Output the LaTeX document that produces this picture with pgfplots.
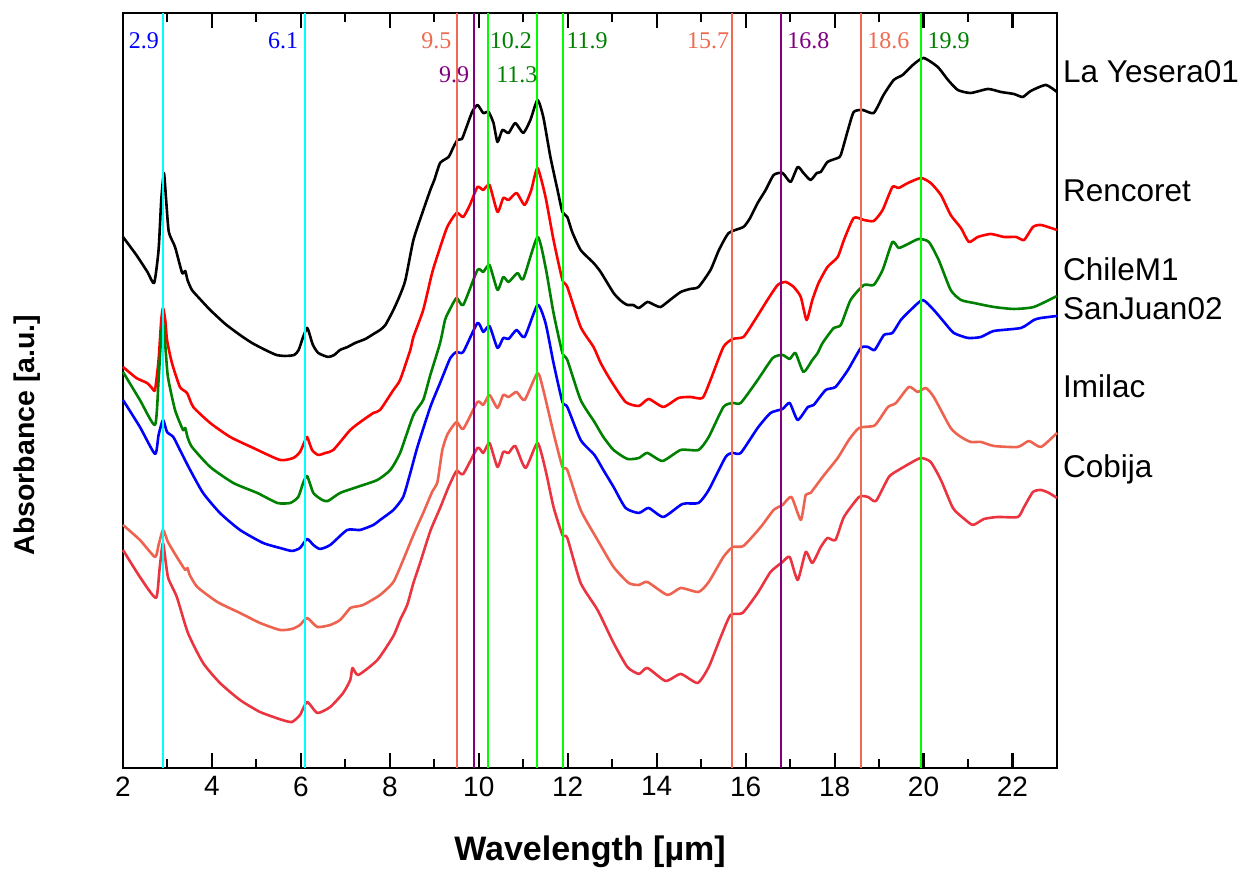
\documentclass[border=0pt]{standalone}
\usepackage{fontspec}
\setmainfont{Liberation Sans}
\newfontfamily\tnr{Liberation Serif}
\usepackage{pgfplots}
\pgfplotsset{compat=1.18}
\definecolor{cgreen}{HTML}{008000}
\definecolor{cimilac}{HTML}{EE6350}
\definecolor{ccobija}{HTML}{EA3440}
\definecolor{csalmon}{HTML}{EE6A50}
\definecolor{cpurple}{HTML}{800080}
\definecolor{clime}{HTML}{00FF00}
\definecolor{ccyan}{HTML}{00FFFF}
\begin{document}
\begin{tikzpicture}
\begin{axis}[
 scale only axis, width=934pt, height=755pt,
 xmin=2, xmax=23, ymin=13, ymax=768,
 y filter/.expression={781-y},
 axis line style={line width=2.5pt},
 xtick={2,4,...,22}, minor xtick={3,5,...,21}, ytick=\empty,
 xtick pos=both, xtick align=inside,
 major tick length=15pt, minor tick length=9pt,
 major tick style={line width=2.2pt, draw=black},
 minor tick style={line width=2pt, draw=black},
 /pgf/number format/assume math mode=true,
 xticklabel style={font=\fontsize{28}{28}\selectfont, yshift=-5pt},
 xlabel={Wavelength [µm]}, ylabel={Absorbance [a.u.]},
 xlabel style={font=\bfseries\fontsize{34}{34}\selectfont, at={(axis description cs:0.5,-0.1113)}, anchor=center},
 ylabel style={font=\bfseries\fontsize{28.5}{28.5}\selectfont, at={(axis description cs:-0.1028,0.441)}, anchor=center},
 clip=false,
 every axis plot/.append style={line width=2.6pt, line join=round, no markers},
]
% La Yesera01
\addplot[black, smooth, tension=0.35] coordinates {(2.00,237) (2.30,255) (2.55,272) (2.70,283) (2.80,250) (2.86,200) (2.92,173) (2.97,200) (3.03,232) (3.17,247) (3.33,273) (3.40,271) (3.45,280) (3.55,290) (3.75,300) (3.96,310) (4.30,324) (4.63,335) (4.90,343) (5.20,350) (5.45,355) (5.65,356) (5.85,355) (5.95,350) (6.05,337) (6.14,328) (6.20,335) (6.27,345) (6.39,353) (6.61,357) (6.75,355) (6.88,350) (7.05,347) (7.22,343) (7.45,339) (7.67,333) (7.78,330) (7.90,325) (8.08,310) (8.23,295) (8.35,280) (8.53,240) (8.73,213) (8.91,190) (9.00,180) (9.13,163) (9.32,157) (9.42,148) (9.52,140) (9.62,139) (9.70,130) (9.85,112) (9.97,105) (10.10,113) (10.22,112) (10.33,123) (10.42,142) (10.53,130) (10.67,133) (10.82,123) (11.00,133) (11.16,120) (11.32,100) (11.45,117) (11.61,157) (11.77,190) (11.88,212) (11.99,217) (12.10,232) (12.29,250) (12.58,263) (12.74,272) (13.03,293) (13.20,301) (13.34,305) (13.47,305) (13.60,308) (13.79,302) (13.95,305) (14.09,307) (14.30,300) (14.54,292) (14.75,289) (14.94,287) (15.21,270) (15.40,250) (15.62,233) (15.95,227) (16.10,218) (16.27,203) (16.45,190) (16.63,175) (16.83,173) (17.01,182) (17.17,167) (17.30,173) (17.46,180) (17.60,173) (17.69,172) (17.84,162) (18.07,158) (18.14,155) (18.30,130) (18.43,112) (18.63,110) (18.88,113) (19.10,95) (19.33,80) (19.53,75) (19.76,65) (20.00,58) (20.32,67) (20.55,80) (20.77,90) (21.06,93) (21.45,89) (21.74,92) (22.03,94) (22.23,97) (22.41,91) (22.75,85) (23.00,92)};
% Rencoret
\addplot[red, smooth, tension=0.35] coordinates {(2.00,367) (2.30,378) (2.54,383) (2.65,388) (2.72,390) (2.80,360) (2.86,320) (2.90,308) (2.95,320) (2.99,340) (3.10,363) (3.28,387) (3.44,393) (3.58,407) (3.96,423) (4.41,437) (4.93,448) (5.53,460) (5.83,458) (5.98,452) (6.07,443) (6.14,437) (6.25,450) (6.39,455) (6.55,453) (6.73,450) (7.11,430) (7.40,420) (7.63,413) (7.78,410) (8.08,390) (8.23,380) (8.46,350) (8.53,337) (8.75,310) (8.95,273) (9.09,253) (9.29,227) (9.50,213) (9.65,217) (9.80,205) (9.97,187) (10.10,190) (10.24,185) (10.42,212) (10.55,198) (10.67,200) (10.85,193) (11.03,205) (11.18,190) (11.32,168) (11.50,197) (11.68,240) (11.88,280) (11.99,287) (12.29,327) (12.58,347) (12.74,363) (12.96,380) (13.30,402) (13.60,406) (13.82,399) (14.15,407) (14.49,398) (14.76,397) (15.03,398) (15.21,380) (15.50,347) (15.71,339) (15.95,337) (16.18,322) (16.49,300) (16.72,285) (16.90,282) (17.08,287) (17.24,297) (17.37,320) (17.50,300) (17.64,283) (17.84,267) (18.07,257) (18.21,240) (18.43,218) (18.66,220) (18.88,221) (19.08,210) (19.30,187) (19.44,188) (19.65,183) (19.94,178) (20.16,183) (20.39,195) (20.61,215) (20.84,228) (21.02,242) (21.22,237) (21.51,234) (21.81,237) (22.08,237) (22.26,240) (22.46,227) (22.64,225) (23.00,230)};
% ChileM1
\addplot[cgreen, smooth, tension=0.35] coordinates {(2.00,372) (2.38,400) (2.72,425) (2.80,380) (2.86,335) (2.90,323) (2.95,345) (3.01,377) (3.17,410) (3.35,430) (3.40,428) (3.45,437) (3.55,447) (3.96,467) (4.48,483) (5.02,493) (5.47,503) (5.76,503) (5.94,497) (6.05,483) (6.14,476) (6.28,493) (6.48,500) (6.61,501) (6.88,493) (7.27,487) (7.72,480) (8.01,470) (8.23,453) (8.53,415) (8.75,400) (8.91,375) (9.13,343) (9.24,320) (9.32,312) (9.50,298) (9.65,305) (9.97,270) (10.10,272) (10.24,265) (10.42,290) (10.55,277) (10.67,282) (10.87,273) (11.00,279) (11.32,237) (11.50,267) (11.68,313) (11.88,353) (11.99,360) (12.29,400) (12.60,422) (12.80,437) (13.03,450) (13.34,459) (13.60,458) (13.79,453) (14.13,461) (14.54,450) (14.94,450) (15.17,437) (15.50,407) (15.71,403) (15.89,403) (16.27,380) (16.61,358) (16.83,355) (16.99,359) (17.12,353) (17.30,372) (17.50,360) (17.62,353) (17.73,343) (17.98,328) (18.14,325) (18.36,300) (18.66,285) (18.88,285) (19.08,270) (19.30,242) (19.44,248) (19.65,244) (19.89,239) (20.12,242) (20.34,260) (20.61,290) (20.84,300) (21.13,303) (21.58,307) (22.03,309) (22.48,307) (23.00,296)};
% SanJuan02
\addplot[blue, smooth, tension=0.35] coordinates {(2.00,400) (2.38,427) (2.72,454) (2.80,435) (2.90,420) (2.99,432) (3.13,437) (3.28,450) (3.51,470) (3.80,493) (4.18,513) (4.63,530) (5.15,543) (5.53,548) (5.80,551) (5.98,548) (6.14,539) (6.28,545) (6.43,549) (6.66,545) (7.04,530) (7.33,530) (7.63,525) (7.78,520) (8.08,510) (8.30,497) (8.46,473) (8.62,447) (8.91,407) (9.13,383) (9.36,358) (9.50,352) (9.65,352) (9.97,323) (10.10,332) (10.24,326) (10.42,348) (10.55,338) (10.67,339) (10.85,330) (11.03,337) (11.32,305) (11.50,323) (11.68,363) (11.88,402) (11.99,407) (12.29,440) (12.60,455) (12.80,470) (13.03,487) (13.30,508) (13.60,513) (13.82,508) (14.15,517) (14.58,504) (14.94,503) (15.17,490) (15.55,457) (15.71,453) (15.89,453) (16.27,428) (16.56,413) (16.83,409) (16.99,403) (17.17,420) (17.40,407) (17.53,405) (17.80,390) (18.02,387) (18.30,370) (18.59,348) (18.75,347) (18.90,350) (19.11,335) (19.30,333) (19.49,320) (19.71,310) (19.98,300) (20.23,310) (20.46,322) (20.68,333) (21.00,338) (21.29,337) (21.58,331) (22.19,328) (22.48,320) (22.64,318) (23.00,316)};
% Imilac
\addplot[cimilac, smooth, tension=0.35] coordinates {(2.00,525) (2.38,540) (2.72,557) (2.80,545) (2.90,530) (3.01,542) (3.21,557) (3.40,570) (3.45,568) (3.50,575) (3.67,587) (4.12,602) (4.63,613) (5.08,623) (5.53,630) (5.80,629) (5.98,625) (6.14,618) (6.37,627) (6.66,625) (6.88,620) (7.11,608) (7.18,607) (7.40,605) (7.78,595) (8.08,582) (8.30,560) (8.53,535) (8.75,513) (8.95,492) (9.07,482) (9.18,450) (9.30,434) (9.50,422) (9.65,429) (9.97,402) (10.10,405) (10.24,395) (10.42,408) (10.55,395) (10.67,397) (10.85,392) (11.03,400) (11.32,373) (11.45,390) (11.68,433) (11.88,467) (11.99,470) (12.29,510) (12.67,540) (13.03,567) (13.37,583) (13.60,585) (13.79,582) (14.24,595) (14.54,588) (14.94,592) (15.17,582) (15.50,557) (15.71,547) (15.95,546) (16.34,527) (16.63,510) (16.83,505) (17.03,497) (17.24,520) (17.35,495) (17.46,493) (17.73,477) (18.07,458) (18.32,440) (18.55,428) (18.88,426) (19.00,420) (19.20,407) (19.38,403) (19.67,387) (19.87,392) (20.05,388) (20.23,397) (20.61,428) (20.84,437) (21.06,442) (21.29,442) (21.58,446) (22.12,447) (22.37,441) (22.64,447) (23.00,433)};
% Cobija
\addplot[ccobija, smooth, tension=0.35] coordinates {(2.00,550) (2.38,577) (2.74,598) (2.82,570) (2.90,543) (3.01,577) (3.21,597) (3.46,633) (3.80,663) (4.18,683) (4.63,700) (5.08,712) (5.58,720) (5.80,722) (5.98,715) (6.14,702) (6.37,713) (6.66,707) (6.95,693) (7.11,680) (7.16,668) (7.29,675) (7.72,660) (8.08,636) (8.23,620) (8.39,605) (8.53,583) (8.68,563) (8.91,531) (9.13,508) (9.32,487) (9.50,471) (9.65,474) (9.97,448) (10.10,453) (10.24,443) (10.42,467) (10.55,452) (10.67,453) (10.82,446) (11.05,468) (11.32,443) (11.50,470) (11.68,507) (11.88,535) (11.99,538) (12.29,583) (12.67,610) (13.03,643) (13.34,667) (13.60,674) (13.79,668) (14.20,681) (14.54,674) (14.92,683) (15.17,667) (15.44,637) (15.66,615) (15.93,613) (16.27,593) (16.56,572) (16.83,562) (16.99,557) (17.17,580) (17.35,552) (17.50,563) (17.69,547) (17.84,538) (18.02,540) (18.21,517) (18.55,497) (18.75,497) (18.93,501) (19.22,477) (19.44,470) (19.71,463) (19.94,458) (20.16,462) (20.39,480) (20.66,508) (20.89,518) (21.11,525) (21.36,519) (21.67,517) (22.12,517) (22.26,507) (22.46,492) (22.64,490) (22.82,493) (23.00,498)};
% reference lines
\addplot[ccyan, line width=2pt] coordinates {(2.9,13) (2.9,768)};
\addplot[ccyan, line width=2pt] coordinates {(6.1,13) (6.1,768)};
\addplot[csalmon, line width=2pt] coordinates {(9.5,13) (9.5,768)};
\addplot[csalmon, line width=2pt] coordinates {(15.7,13) (15.7,768)};
\addplot[csalmon, line width=2pt] coordinates {(18.6,13) (18.6,768)};
\addplot[cpurple, line width=2pt] coordinates {(9.9,13) (9.9,768)};
\addplot[cpurple, line width=2pt] coordinates {(16.8,13) (16.8,768)};
\addplot[clime, line width=2pt] coordinates {(10.2,13) (10.2,768)};
\addplot[clime, line width=2pt] coordinates {(11.3,13) (11.3,768)};
\addplot[clime, line width=2pt] coordinates {(11.9,13) (11.9,768)};
\addplot[clime, line width=2pt] coordinates {(19.95,13) (19.95,768)};
% tick marks, inward, at top and bottom (axis description cs: x=(wl-2)/21)
\pgfplotsinvokeforeach{0.09524,0.19048,0.28571,0.38095,0.47619,0.57143,0.66667,0.76190,0.85714,0.95238}{
 \draw[black, line width=2.2pt] (axis description cs:#1,0) -- ++(0pt,15pt);
 \draw[black, line width=2.2pt] (axis description cs:#1,1) -- ++(0pt,-15pt);
}
\pgfplotsinvokeforeach{0.04762,0.14286,0.23810,0.33333,0.42857,0.52381,0.61905,0.71429,0.80952,0.90476}{
 \draw[black, line width=2pt] (axis description cs:#1,0) -- ++(0pt,9pt);
 \draw[black, line width=2pt] (axis description cs:#1,1) -- ++(0pt,-9pt);
}
% annotation labels (axis description cs: x=(wl-2)/21, y=(768-py)/755)
\begin{scope}[every node/.style={inner sep=0pt, font=\tnr\fontsize{24}{24}\selectfont}]
\node[anchor=base east, text=blue, xshift=-4pt] at (axis description cs:0.04286,0.9536) {2.9};
\node[anchor=base east, text=blue, xshift=-7pt] at (axis description cs:0.19524,0.9536) {6.1};
\node[anchor=base east, text=csalmon, xshift=-5pt] at (axis description cs:0.35714,0.9536) {9.5};
\node[anchor=base east, text=cpurple, xshift=-5pt] at (axis description cs:0.37619,0.9073) {9.9};
\node[anchor=base west, text=cgreen, xshift=2pt] at (axis description cs:0.39048,0.9536) {10.2};
\node[anchor=base east, text=cgreen, xshift=1pt] at (axis description cs:0.44286,0.9073) {11.3};
\node[anchor=base west, text=cgreen, xshift=3pt] at (axis description cs:0.47143,0.9536) {11.9};
\node[anchor=base east, text=csalmon, xshift=-3pt] at (axis description cs:0.65238,0.9536) {15.7};
\node[anchor=base west, text=cpurple, xshift=6pt] at (axis description cs:0.70476,0.9536) {16.8};
\node[anchor=base west, text=csalmon, xshift=6pt] at (axis description cs:0.79048,0.9536) {18.6};
\node[anchor=base west, text=cgreen, xshift=6pt] at (axis description cs:0.85476,0.9536) {19.9};
\end{scope}
% sample names
\begin{scope}[every node/.style={inner sep=0pt, anchor=base west, xshift=6pt, font=\fontsize{31.5}{31.5}\selectfont}]
\node at (axis description cs:1,0.9073) {La Yesera01};
\node at (axis description cs:1,0.7497) {Rencoret};
\node at (axis description cs:1,0.6450) {ChileM1};
\node at (axis description cs:1,0.5934) {SanJuan02};
\node at (axis description cs:1,0.4901) {Imilac};
\node at (axis description cs:1,0.3841) {Cobija};
\end{scope}
\path (axis description cs:-0.1317,-0.1351) rectangle (axis description cs:1.2024,1.0172);
\end{axis}
\end{tikzpicture}
\end{document}
